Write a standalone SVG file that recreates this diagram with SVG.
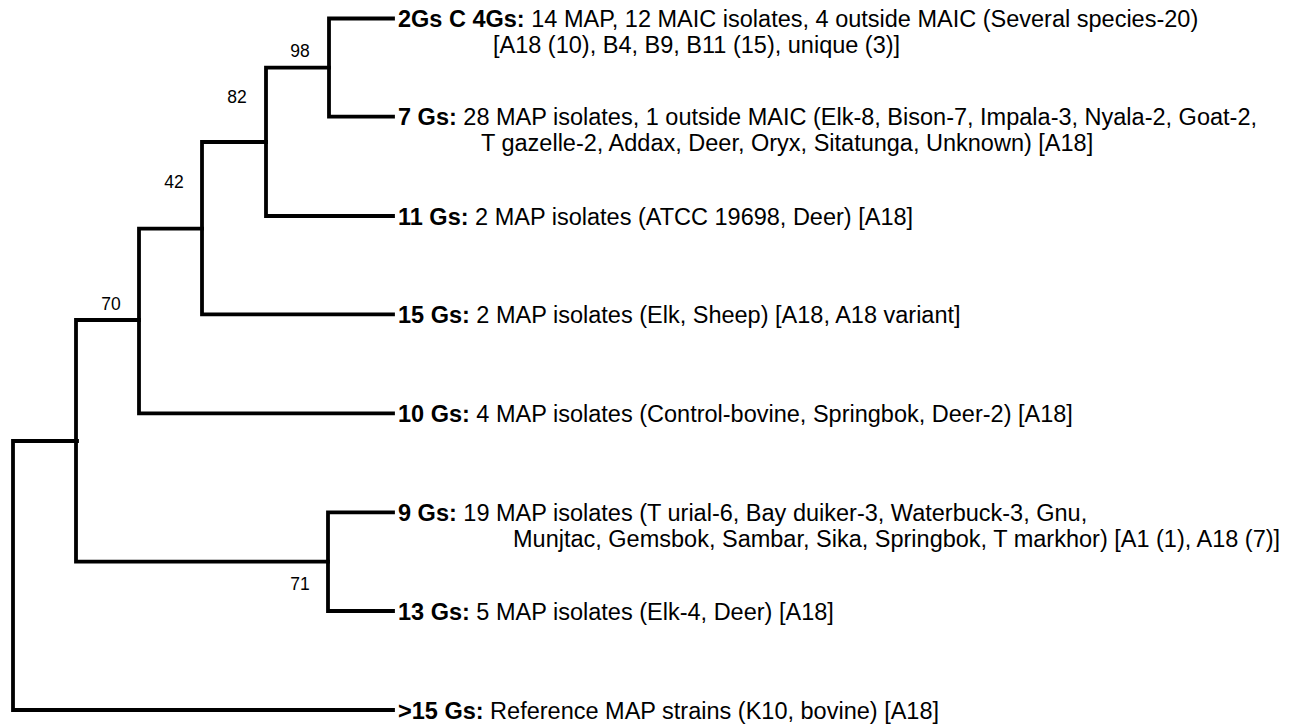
<svg xmlns="http://www.w3.org/2000/svg" width="1290" height="724" viewBox="0 0 1290 724">
<style>
.br{fill:none;stroke:#000;stroke-width:3.8;stroke-linecap:square;stroke-linejoin:miter}
.t{font-family:"Liberation Sans",Arial,sans-serif;font-size:23.5px;fill:#000}
.b{font-weight:bold}
.n{font-family:"Liberation Sans",Arial,sans-serif;font-size:17.5px;fill:#000;text-anchor:middle}
</style>
<rect width="1290" height="724" fill="#fff"/>
<g id="connectors">
<path class="br" d="M393,18.5 H329 V116.7 H393"/>
<path class="br" d="M329,67.7 H266 V216 H393"/>
<path class="br" d="M266,142 H202 V314.3 H393"/>
<path class="br" d="M202,228.7 H139 V413.3 H393"/>
<path class="br" d="M139,320 H76 V561.7 H328"/>
<path class="br" d="M393,512.3 H328 V611 H393"/>
<path class="br" d="M77,441 H13 V710 H393"/>
</g>
<g id="support">
<text class="n" x="300" y="57">98</text>
<text class="n" x="237" y="103">82</text>
<text class="n" x="174" y="188">42</text>
<text class="n" x="111" y="310">70</text>
<text class="n" x="300" y="590">71</text>
</g>
<g id="node-2Gs">
<text class="t" x="398" y="27"><tspan class="b">2Gs C 4Gs:</tspan> 14 MAP, 12 MAIC isolates, 4 outside MAIC (Several species-20)</text>
<text class="t" x="493" y="53">[A18 (10), B4, B9, B11 (15), unique (3)]</text>
</g>
<g id="node-7Gs">
<text class="t" x="398" y="125"><tspan class="b">7 Gs:</tspan> 28 MAP isolates, 1 outside MAIC (Elk-8, Bison-7, Impala-3, Nyala-2, Goat-2,</text>
<text class="t" x="481" y="151">T gazelle-2, Addax, Deer, Oryx, Sitatunga, Unknown) [A18]</text>
</g>
<g id="node-11Gs">
<text class="t" x="398" y="224.5"><tspan class="b">11 Gs:</tspan> 2 MAP isolates (ATCC 19698, Deer) [A18]</text>
</g>
<g id="node-15Gs">
<text class="t" x="398" y="323"><tspan class="b">15 Gs:</tspan> 2 MAP isolates (Elk, Sheep) [A18, A18 variant]</text>
</g>
<g id="node-10Gs">
<text class="t" x="398" y="422"><tspan class="b">10 Gs:</tspan> 4 MAP isolates (Control-bovine, Springbok, Deer-2) [A18]</text>
</g>
<g id="node-9Gs">
<text class="t" x="398" y="521"><tspan class="b">9 Gs:</tspan> 19 MAP isolates (T urial-6, Bay duiker-3, Waterbuck-3, Gnu,</text>
<text class="t" x="513" y="547">Munjtac, Gemsbok, Sambar, Sika, Springbok, T markhor) [A1 (1), A18 (7)]</text>
</g>
<g id="node-13Gs">
<text class="t" x="398" y="619.5"><tspan class="b">13 Gs:</tspan> 5 MAP isolates (Elk-4, Deer) [A18]</text>
</g>
<g id="node-ref">
<text class="t" x="398" y="718.5"><tspan class="b">&gt;15 Gs:</tspan> Reference MAP strains (K10, bovine) [A18]</text>
</g>
</svg>
